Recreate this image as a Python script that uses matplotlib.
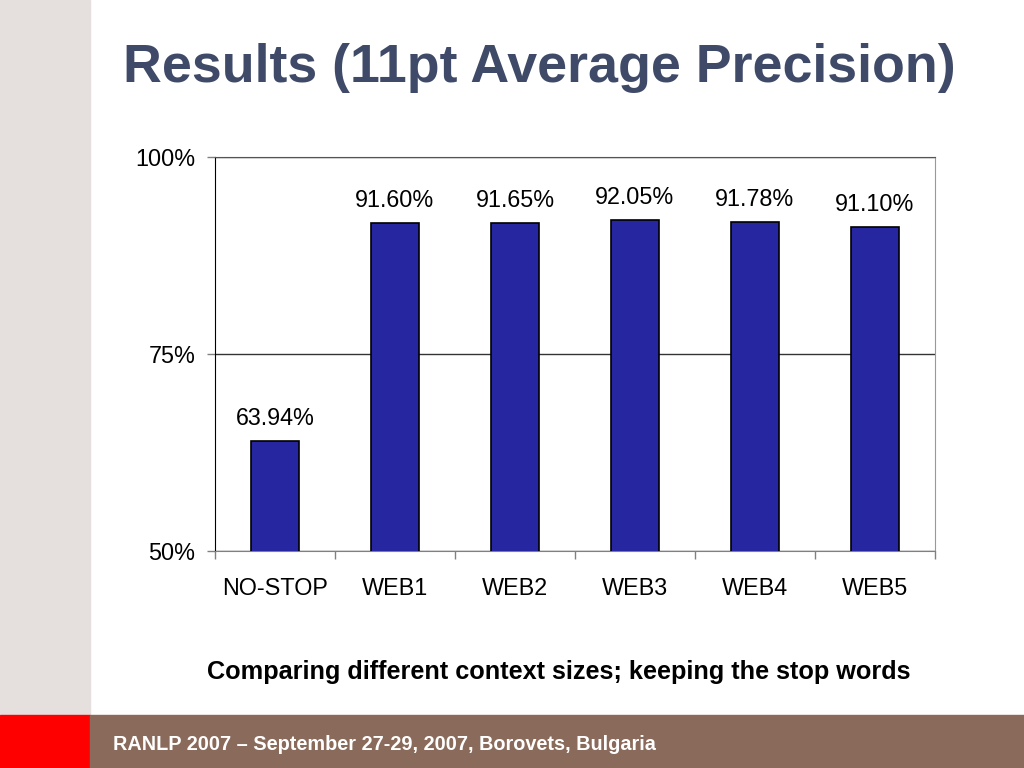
import matplotlib.pyplot as plt
import matplotlib.patches as mpatches
import numpy as np

plt.rcParams['font.family'] = ['Liberation Sans', 'DejaVu Sans']

categorias = ['NO-STOP', 'WEB1', 'WEB2', 'WEB3', 'WEB4', 'WEB5']
precision = [63.94, 91.60, 91.65, 92.05, 91.78, 91.10]
etiquetas = ['63.94%', '91.60%', '91.65%', '92.05%', '91.78%', '91.10%']
yticks = [50, 75, 100]
ytick_labels = ['50%', '75%', '100%']

fig = plt.figure(figsize=(10.24, 7.68), dpi=100)

# fondo de la diapositiva
fig.patches.append(mpatches.Rectangle((0, 53/768), 90/1024, 1 - 53/768,
                                      transform=fig.transFigure, color='#E5E0DE', zorder=0))
fig.patches.append(mpatches.Rectangle((0, 0), 90/1024, 53/768,
                                      transform=fig.transFigure, color='#FF0000', zorder=0))
fig.patches.append(mpatches.Rectangle((90/1024, 0), 1 - 90/1024, 53/768,
                                      transform=fig.transFigure, color='#8A6A5A', zorder=0))

fig.text(539/1024, 1 - 68/768, 'Results (11pt Average Precision)', ha='center', va='center',
         fontsize=38.7, fontweight='bold', color='#3F4A68')
fig.text(559/1024, 1 - 672/768, 'Comparing different context sizes; keeping the stop words',
         ha='center', va='center', fontsize=18.2, fontweight='bold', color='black')
fig.text(113/1024, 1 - 744/768, 'RANLP 2007 \u2013 September 27-29, 2007, Borovets, Bulgaria',
         ha='left', va='center', fontsize=14.3, fontweight='bold', color='white')

ax = fig.add_axes([215/1024, 1 - 551/768, 720/1024, 394/768])
x = np.arange(len(categorias))
ax.bar(x, precision, width=0.4, color='#2626A0', edgecolor='black', linewidth=1.2, zorder=3)

for xi, v, t in zip(x, precision, etiquetas):
    ax.annotate(t, (xi, v), xytext=(0, 8), textcoords='offset points',
                ha='center', va='bottom', fontsize=16.8)

ax.set_ylim(50, 100)
ax.set_xlim(-0.5, len(categorias) - 0.5)
ax.set_yticks(yticks)
ax.set_yticklabels(ytick_labels, fontsize=16.8)
ax.set_xticks(x)
ax.set_xticklabels(categorias, fontsize=16.8)
ax.tick_params(axis='x', length=0, pad=19)
ax.set_xticks(np.arange(-0.5, len(categorias), 1), minor=True)
ax.tick_params(axis='x', which='minor', length=6, color='#808080', width=1)
ax.tick_params(axis='y', length=6, color='#808080', width=1, pad=8)

ax.yaxis.grid(True, color='#333333', linewidth=1)
ax.set_axisbelow(True)

ax.spines['left'].set_color('black')
ax.spines['top'].set_color('#555555')
ax.spines['right'].set_color('#999999')
ax.spines['bottom'].set_color('#808080')

plt.savefig('out.png', dpi=100)
